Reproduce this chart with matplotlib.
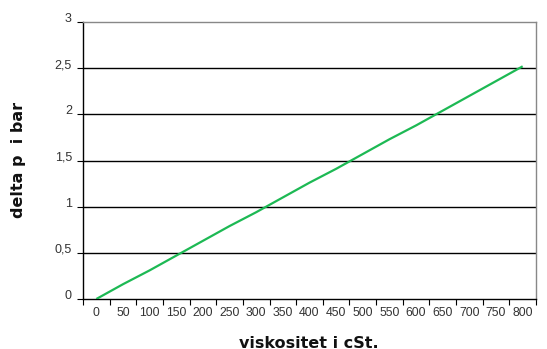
import matplotlib
matplotlib.use("Agg")
import matplotlib.pyplot as plt
from matplotlib.ticker import FixedLocator, NullFormatter, FixedFormatter

viscosity = [0, 50, 100, 150, 200, 250, 300, 350, 400, 450, 500, 550, 600, 650, 700, 750, 800]
delta_p = [0.0, 0.16, 0.31, 0.47, 0.63, 0.79, 0.94, 1.10, 1.26, 1.41, 1.57, 1.73, 1.88, 2.04, 2.20, 2.36, 2.52]
x_labels = [str(v) for v in viscosity]
y_ticks = [0, 0.5, 1, 1.5, 2, 2.5, 3]
y_labels = ["0", "0,5", "1", "1,5", "2", "2,5", "3"]

plt.rcParams['font.family'] = ['Liberation Sans Narrow', 'Liberation Sans', 'DejaVu Sans']

fig = plt.figure(figsize=(5.47, 3.49), dpi=100)
ax = fig.add_axes([83/547, 50/349, (536-83)/547, (299-22)/349])

ax.plot(viscosity, delta_p, color="#1db954", lw=1.6, solid_capstyle="butt", zorder=3)

ax.set_xlim(-25, 825)
ax.set_ylim(0, 3)

for y in y_ticks[1:-1]:
    ax.axhline(y, color="black", lw=1.0, zorder=1)

bounds = [v - 25 for v in viscosity] + [825]
ax.xaxis.set_major_locator(FixedLocator(bounds))
ax.xaxis.set_major_formatter(NullFormatter())
ax.xaxis.set_minor_locator(FixedLocator(viscosity))
ax.xaxis.set_minor_formatter(FixedFormatter(x_labels))
ax.tick_params(axis="x", which="major", length=4, width=0.8, direction="out", color="black")
ax.tick_params(axis="x", which="minor", length=0, pad=6, labelsize=8.8, labelcolor="#333333")

ax.set_yticks(y_ticks)
ax.set_yticklabels(y_labels)
ax.tick_params(axis="y", length=4, width=0.8, direction="out", color="black", labelsize=9,
               labelcolor="#333333", pad=4)
for lbl in ax.get_yticklabels():
    lbl.set_verticalalignment("baseline")

ax.spines["left"].set_color("black")
ax.spines["bottom"].set_color("black")
ax.spines["left"].set_linewidth(1.0)
ax.spines["bottom"].set_linewidth(1.0)
ax.spines["top"].set_color("#888888")
ax.spines["right"].set_color("#888888")
ax.spines["top"].set_linewidth(1.0)
ax.spines["right"].set_linewidth(1.0)

fig.text(19/547, 1 - 160/349, "delta p  i bar", rotation=90, fontsize=11.5, fontweight="bold",
         ha="center", va="center", color="#111111", family="DejaVu Sans")
fig.text(309/547, 1 - 343/349, "viskositet i cSt.", fontsize=11.5, fontweight="bold",
         ha="center", va="center", color="#111111", family="DejaVu Sans")

fig.savefig("out.png", dpi=100)
